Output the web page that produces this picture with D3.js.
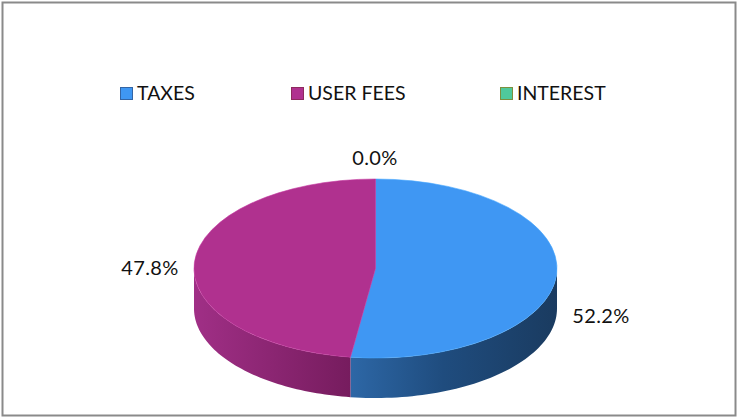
<!DOCTYPE html>
<html><head><meta charset="utf-8">
<script src="https://cdn.jsdelivr.net/npm/d3@7"></script>
<style>body{margin:0;background:#fff}svg{display:block}</style>
</head><body>
<script>
const categories = ["TAXES", "USER FEES", "INTEREST"];
const values = [52.2, 47.8, 0.0];
const labels = ["52.2%", "47.8%", "0.0%"];
const topColors = ["#3F97F3", "#B0318F", "#4FC99B"];
const sideLight = ["#2D67A6", "#A02F86"];
const sideDark = ["#1A3B60", "#761C5E"];
const legendStroke = ["#3465A4", "#8E2A5E", "#7C8F3E"];

const W = 739, H = 419;
const svg = d3.select("body").append("svg").attr("width", W).attr("height", H);
svg.append("rect").attr("x", 2.5).attr("y", 2.5).attr("width", 733).attr("height", 413)
  .attr("fill", "#fff").attr("stroke", "#8a8a8a").attr("stroke-width", 2);

const cx = 375.5, cy = 268.5, rx = 181.5, ry = 89.5, depth = 40;
const pie = d3.pie().sort(null).value(d => d)(values);
const pt = (a, dy = 0) => [cx + rx * Math.sin(a), cy - ry * Math.cos(a) + dy];

const defs = svg.append("defs");

pie.forEach((s, i) => {
  const a0 = Math.max(s.startAngle, Math.PI / 2), a1 = Math.min(s.endAngle, 3 * Math.PI / 2);
  if (a1 <= a0) return;
  const n = 60, top = [], bot = [];
  for (let k = 0; k <= n; k++) { const a = a0 + (a1 - a0) * k / n; top.push(pt(a)); bot.push(pt(a, depth)); }
  const xs = top.map(p => p[0]);
  const gid = "g" + i;
  const g = defs.append("linearGradient").attr("id", gid).attr("gradientUnits", "userSpaceOnUse")
    .attr("x1", d3.min(xs)).attr("x2", d3.max(xs)).attr("y1", 0).attr("y2", 0);
  if (i === 0) {
    g.append("stop").attr("offset", 0).attr("stop-color", sideLight[0]);
    g.append("stop").attr("offset", 0.45).attr("stop-color", "#1F4C7E");
    g.append("stop").attr("offset", 1).attr("stop-color", sideDark[0]);
  } else {
    g.append("stop").attr("offset", 0).attr("stop-color", sideLight[1]);
    g.append("stop").attr("offset", 1).attr("stop-color", sideDark[1]);
  }
  const d = "M" + top.map(p => p.join(",")).join("L") + "L" + bot.reverse().map(p => p.join(",")).join("L") + "Z";
  svg.append("path").attr("d", d).attr("fill", `url(#${gid})`);
});

pie.forEach((s, i) => {
  if (s.endAngle - s.startAngle <= 0) return;
  const p0 = pt(s.startAngle), p1 = pt(s.endAngle);
  const large = (s.endAngle - s.startAngle) > Math.PI ? 1 : 0;
  const d = `M${cx},${cy}L${p0[0]},${p0[1]}A${rx},${ry} 0 ${large} 1 ${p1[0]},${p1[1]}Z`;
  svg.append("path").attr("d", d).attr("fill", topColors[i])
    .attr("stroke", d3.color(topColors[i]).brighter(0.3)).attr("stroke-width", 0.6);
});

const font = "Lato, 'Open Sans', sans-serif";
const labelPos = [[601, 323], [150, 275], [375, 165]];
labels.forEach((t, i) => {
  svg.append("text").attr("x", labelPos[i][0]).attr("y", labelPos[i][1])
    .attr("text-anchor", "middle").attr("font-family", font)
    .attr("font-size", 20).attr("letter-spacing", 0.4).attr("fill", "#111").text(t);
});

const legX = [120, 291, 500];
categories.forEach((c, i) => {
  svg.append("rect").attr("x", legX[i] + 0.5).attr("y", 87.5).attr("width", 12).attr("height", 12)
    .attr("fill", topColors[i]).attr("stroke", legendStroke[i]).attr("stroke-width", 1);
  svg.append("text").attr("x", legX[i] + 17).attr("y", 100)
    .attr("font-family", font).attr("font-size", 19.5)
    .attr("fill", "#111").text(c);
});
</script>
</body></html>
